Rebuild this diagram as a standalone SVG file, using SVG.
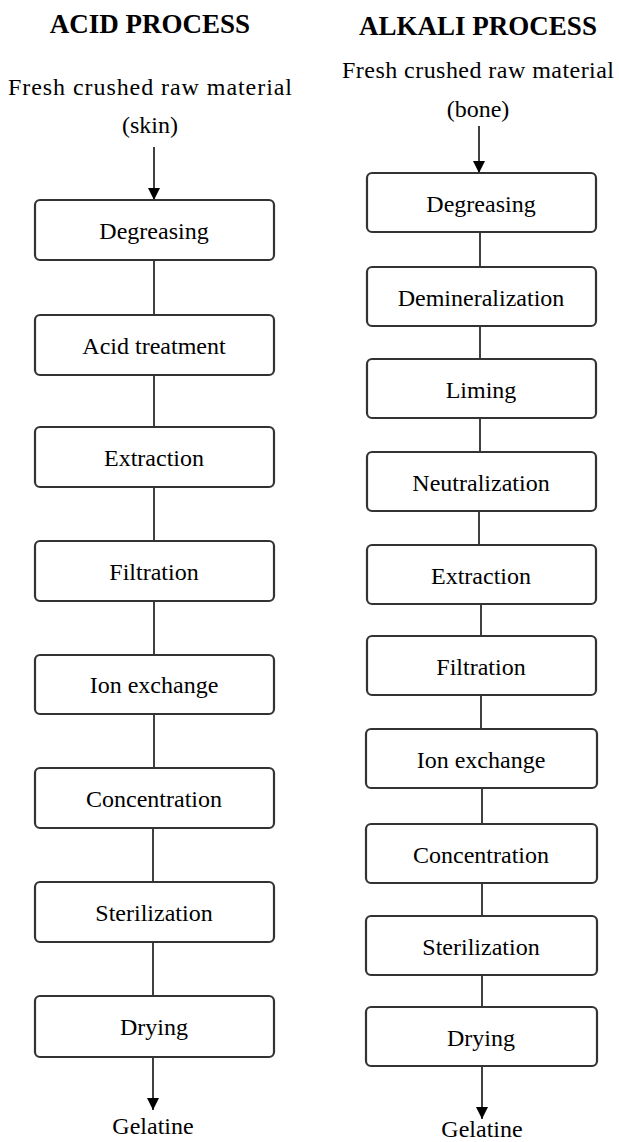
<svg xmlns="http://www.w3.org/2000/svg" width="619" height="1142" viewBox="0 0 619 1142">
<style>
.title{font-family:"Liberation Serif","Times New Roman",serif;font-weight:bold;font-size:27px;fill:#000;text-anchor:middle}
.t{font-family:"Liberation Serif","Times New Roman",serif;font-size:24px;fill:#000;text-anchor:middle}
.box{fill:#fff;stroke:#333;stroke-width:2.2}
.ln{stroke:#111;stroke-width:1.6;fill:none}
</style>
<defs>
<marker id="ah" viewBox="0 0 12 12" refX="12" refY="6" markerWidth="12" markerHeight="12" markerUnits="userSpaceOnUse" orient="auto">
<path d="M0,0 L12,6 L0,12 Z" fill="#000"/>
</marker>
</defs>
<rect width="619" height="1142" fill="#fff"/>
<text class="title" x="150" y="33">ACID PROCESS</text>
<text class="title" x="478" y="35">ALKALI PROCESS</text>
<text class="t" x="150" y="95" textLength="284" lengthAdjust="spacing">Fresh crushed raw material</text>
<text class="t" x="150" y="133">(skin)</text>
<text class="t" x="478" y="78" textLength="272" lengthAdjust="spacing">Fresh crushed raw material</text>
<text class="t" x="478" y="117">(bone)</text>
<g id="connectors">
<line class="ln" x1="154" y1="147" x2="154" y2="200" marker-end="url(#ah)"/>
<line class="ln" x1="154" y1="260" x2="154" y2="315"/>
<line class="ln" x1="154" y1="375" x2="154" y2="427"/>
<line class="ln" x1="154" y1="487" x2="154" y2="541"/>
<line class="ln" x1="154" y1="601" x2="154" y2="655"/>
<line class="ln" x1="154" y1="715" x2="154" y2="768"/>
<line class="ln" x1="153" y1="828" x2="153" y2="882"/>
<line class="ln" x1="153" y1="942" x2="153" y2="996"/>
<line class="ln" x1="153" y1="1057" x2="153" y2="1110" marker-end="url(#ah)"/>
<line class="ln" x1="479" y1="126" x2="479" y2="173" marker-end="url(#ah)"/>
<line class="ln" x1="480" y1="232" x2="480" y2="267"/>
<line class="ln" x1="480" y1="326" x2="480" y2="359"/>
<line class="ln" x1="480" y1="418" x2="480" y2="452"/>
<line class="ln" x1="479" y1="511" x2="479" y2="545"/>
<line class="ln" x1="481" y1="604" x2="481" y2="636"/>
<line class="ln" x1="481" y1="695" x2="481" y2="729"/>
<line class="ln" x1="482" y1="788" x2="482" y2="824"/>
<line class="ln" x1="482" y1="883" x2="482" y2="916"/>
<line class="ln" x1="482" y1="975" x2="482" y2="1007"/>
<line class="ln" x1="482" y1="1066" x2="482" y2="1119" marker-end="url(#ah)"/>
</g>
<g id="acid-degreasing"><rect class="box" x="35" y="200" width="239" height="60" rx="5"/><text class="t" x="154" y="239">Degreasing</text></g>
<g id="acid-treatment"><rect class="box" x="35" y="315" width="239" height="60" rx="5"/><text class="t" x="154" y="354">Acid treatment</text></g>
<g id="acid-extraction"><rect class="box" x="35" y="427" width="239" height="60" rx="5"/><text class="t" x="154" y="466">Extraction</text></g>
<g id="acid-filtration"><rect class="box" x="35" y="541" width="239" height="60" rx="5"/><text class="t" x="154" y="580">Filtration</text></g>
<g id="acid-ion"><rect class="box" x="35" y="655" width="239" height="59" rx="5"/><text class="t" x="154" y="693">Ion exchange</text></g>
<g id="acid-concentration"><rect class="box" x="35" y="768" width="239" height="60" rx="5"/><text class="t" x="154" y="807">Concentration</text></g>
<g id="acid-sterilization"><rect class="box" x="35" y="882" width="239" height="60" rx="5"/><text class="t" x="154" y="921">Sterilization</text></g>
<g id="acid-drying"><rect class="box" x="35" y="996" width="239" height="61" rx="5"/><text class="t" x="154" y="1035">Drying</text></g>
<g id="acid-gelatine"><text class="t" x="153" y="1134">Gelatine</text></g>
<g id="alk-degreasing"><rect class="box" x="367" y="173" width="229" height="59" rx="5"/><text class="t" x="481" y="212">Degreasing</text></g>
<g id="alk-demineralization"><rect class="box" x="367" y="267" width="229" height="59" rx="5"/><text class="t" x="481" y="306">Demineralization</text></g>
<g id="alk-liming"><rect class="box" x="367" y="359" width="229" height="59" rx="5"/><text class="t" x="481" y="398">Liming</text></g>
<g id="alk-neutralization"><rect class="box" x="367" y="452" width="229" height="59" rx="5"/><text class="t" x="481" y="491">Neutralization</text></g>
<g id="alk-extraction"><rect class="box" x="367" y="545" width="229" height="59" rx="5"/><text class="t" x="481" y="584">Extraction</text></g>
<g id="alk-filtration"><rect class="box" x="367" y="636" width="229" height="59" rx="5"/><text class="t" x="481" y="675">Filtration</text></g>
<g id="alk-ion"><rect class="box" x="366" y="729" width="231" height="59" rx="5"/><text class="t" x="481" y="768">Ion exchange</text></g>
<g id="alk-concentration"><rect class="box" x="366" y="824" width="231" height="59" rx="5"/><text class="t" x="481" y="863">Concentration</text></g>
<g id="alk-sterilization"><rect class="box" x="366" y="916" width="231" height="59" rx="5"/><text class="t" x="481" y="955">Sterilization</text></g>
<g id="alk-drying"><rect class="box" x="366" y="1007" width="231" height="59" rx="5"/><text class="t" x="481" y="1046">Drying</text></g>
<g id="alk-gelatine"><text class="t" x="482" y="1137">Gelatine</text></g>
</svg>
